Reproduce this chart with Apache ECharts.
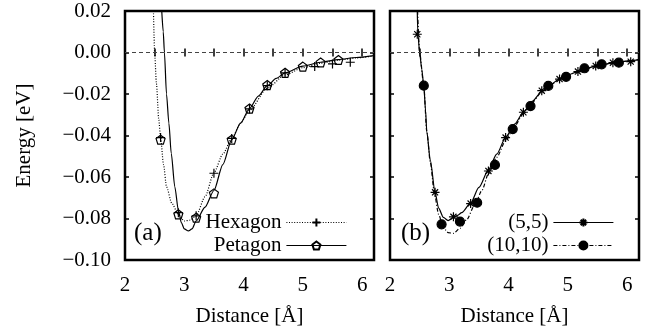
<!DOCTYPE html>
<html>
<head>
<meta charset="utf-8">
<script src="https://cdn.jsdelivr.net/npm/echarts@6/dist/echarts.min.js"></script>
<style>
html,body{margin:0;padding:0;background:#fff;}
#chart{width:657px;height:334px;}
</style>
</head>
<body>
<div id="chart"></div>
<script>
// ---- Panel (a): measured points ----
const hexX  = [2.6, 2.9, 3.2, 3.5, 3.8, 4.1, 4.4, 4.7, 5.2, 5.5, 5.8];
const hexY  = [-0.041, -0.0772, -0.0787, -0.0582, -0.0414, -0.0272, -0.0160, -0.0098, -0.0068, -0.0055, -0.0047];
const pentX = [2.6, 2.9, 3.2, 3.5, 3.8, 4.1, 4.4, 4.7, 5.0, 5.3, 5.6];
const pentY = [-0.042, -0.078, -0.0796, -0.0679, -0.042, -0.0270, -0.0157, -0.0098, -0.0068, -0.0048, -0.0036];
// ---- Panel (a): fitted curves ----
const hexFitX = [2.48, 2.50, 2.53, 2.57, 2.60, 2.65, 2.70, 2.79, 2.90, 3.00, 3.10, 3.20, 3.35, 3.50, 3.65, 3.80, 3.95, 4.10, 4.40, 4.70, 5.00, 5.30, 5.60, 5.90, 6.20];
const hexFitY = [0.02, 0.0, -0.015, -0.0325, -0.041, -0.054, -0.0647, -0.0727, -0.0780, -0.0812, -0.0808, -0.0787, -0.0695, -0.0580, -0.0490, -0.0415, -0.0340, -0.0278, -0.0172, -0.0108, -0.0073, -0.0052, -0.0037, -0.0026, -0.0016];
const pentFitX = [2.62, 2.645, 2.665, 2.70, 2.74, 2.78, 2.84, 2.90, 2.95, 3.00, 3.07, 3.13, 3.20, 3.35, 3.50, 3.65, 3.80, 3.95, 4.10, 4.25, 4.40, 4.55, 4.70, 5.00, 5.30, 5.60, 5.90, 6.20];
const pentFitY = [0.02, 0.01, 0.0, -0.020, -0.034, -0.0486, -0.0647, -0.0760, -0.0820, -0.0850, -0.0860, -0.0850, -0.0812, -0.0745, -0.0665, -0.0540, -0.0420, -0.0340, -0.0270, -0.0210, -0.0160, -0.0125, -0.0098, -0.0066, -0.0047, -0.0034, -0.0024, -0.0015];
// ---- Panel (b): measured points ----
const s55X = [2.46, 2.76, 3.07, 3.36, 3.66, 3.95, 4.25, 4.56, 4.86, 5.17, 5.47, 5.76, 6.06];
const s55Y = [0.0088, -0.0674, -0.0792, -0.0728, -0.0571, -0.0410, -0.0288, -0.0184, -0.0128, -0.0092, -0.0065, -0.0049, -0.0044];
const s1010X = [2.57, 2.87, 3.18, 3.47, 3.77, 4.07, 4.37, 4.67, 4.97, 5.28, 5.57, 5.86];
const s1010Y = [-0.016, -0.0828, -0.0815, -0.0724, -0.0542, -0.0369, -0.0258, -0.0161, -0.0117, -0.0076, -0.0057, -0.0049];
// ---- Panel (b): fitted curves ----
const fit55X = [2.46, 2.47, 2.50, 2.535, 2.57, 2.60, 2.62, 2.68, 2.76, 2.82, 2.90, 2.98, 3.07, 3.14, 3.21, 3.36, 3.50, 3.66, 3.80, 3.95, 4.10, 4.25, 4.40, 4.56, 4.70, 4.86, 5.00, 5.17, 5.30, 5.47, 5.76, 6.06, 6.20];
const fit55Y = [0.02, 0.009, 0.0, -0.008, -0.016, -0.028, -0.038, -0.052, -0.0674, -0.0750, -0.0795, -0.0810, -0.0795, -0.0785, -0.0772, -0.0725, -0.0650, -0.0566, -0.0490, -0.0410, -0.0345, -0.0288, -0.0235, -0.0188, -0.0155, -0.0128, -0.0108, -0.0092, -0.0078, -0.0066, -0.0050, -0.0039, -0.0034];
const fit1010X = [2.465, 2.50, 2.57, 2.62, 2.68, 2.75, 2.82, 2.90, 2.98, 3.07, 3.18, 3.29, 3.43, 3.55, 3.66, 3.80, 3.95, 4.10, 4.25, 4.40, 4.56, 4.70, 4.86, 5.00, 5.17, 5.30, 5.47, 5.76, 6.06, 6.20];
const fit1010Y = [0.02, 0.0, -0.016, -0.038, -0.053, -0.068, -0.078, -0.0845, -0.0868, -0.0872, -0.0847, -0.0807, -0.0735, -0.0665, -0.0585, -0.0505, -0.0425, -0.0355, -0.0295, -0.0240, -0.0190, -0.0158, -0.0129, -0.0110, -0.0092, -0.0079, -0.0066, -0.0050, -0.0039, -0.0034];
// ---- axes ----
const xMin = 2, xMax = 6.2, xStep = 0.5;
const yMin = -0.10, yMax = 0.02, yStep = 0.02;
const xLabelName = 'Distance [Å]';
const yLabelName = 'Energy [eV]';

const zip = (xs, ys) => xs.map((x, i) => [x, ys[i]]);
const FONT = 'Liberation Serif';
const txt = {fontFamily: FONT, fontSize: 21, color: '#000'};

const plusSym = 'path://M5,0L5,10M0,5L10,5';
const pentSym = 'path://M5,0L9.755,3.455L7.939,9.045L2.061,9.045L0.245,3.455Z';
const starSym = 'path://M5,0L5,10M0,5L10,5M1.6,1.6L8.4,8.4M1.6,8.4L8.4,1.6';

const DOT = [1, 1.6];
const DASHDOT = [4, 2, 1, 2];

const grids = [
  {left: 125, top: 11, width: 249, height: 249, show: true, borderColor: '#000', borderWidth: 2.5, backgroundColor: 'transparent'},
  {left: 390, top: 11, width: 249, height: 249, show: true, borderColor: '#000', borderWidth: 2.5, backgroundColor: 'transparent'}
];

function xAx(g, pos, labels) {
  return {
    type: 'value', gridIndex: g, position: pos, min: xMin, max: xMax, interval: xStep,
    axisLine: {show: false}, splitLine: {show: false},
    axisTick: {show: true, inside: true, length: 4, lineStyle: {color: '#000', width: 1.5}},
    axisLabel: {show: labels, margin: 15, ...txt,
      formatter: v => Math.abs(v - Math.round(v)) < 1e-6 ? String(Math.round(v)) : '',
      showMaxLabel: false},
    name: labels ? xLabelName : '', nameLocation: 'middle', nameGap: 46, nameTextStyle: txt
  };
}
function yAx(g, pos, labels, named) {
  return {
    type: 'value', gridIndex: g, position: pos, min: yMin, max: yMax, interval: yStep,
    axisLine: {show: false}, splitLine: {show: false},
    axisTick: {show: true, inside: true, length: 4, lineStyle: {color: '#000', width: 1.5}},
    axisLabel: {show: labels, margin: 14, ...txt,
      formatter: v => { if (Math.abs(v) < 1e-9) return '0.00'; const s = v.toFixed(2); return s.replace('-', '\u2212'); }},
    name: named ? yLabelName : '', nameLocation: 'middle', nameGap: 90, nameTextStyle: txt
  };
}

const zeroLine = {
  silent: true, symbol: 'none', label: {show: false},
  lineStyle: {type: [4, 3], color: '#444', width: 1},
  emphasis: {disabled: true},
  data: [{yAxis: 0}]
};

function curve(name, xi, yi, data, type, z) {
  return {
    name: name, type: 'line', xAxisIndex: xi, yAxisIndex: yi, data: data,
    showSymbol: false, symbol: 'none', smooth: 0.25, smoothMonotone: 'x', clip: true,
    lineStyle: {color: '#000', width: 1.2, type: type}, z: z, silent: true,
    itemStyle: {color: '#000'}
  };
}
function pts(name, xi, yi, data, sym, size, fill) {
  return {
    name: name, type: 'line', xAxisIndex: xi, yAxisIndex: yi, data: data,
    symbol: sym, symbolSize: size, showSymbol: true, silent: true, clip: true,
    lineStyle: {width: 0, color: '#000'},
    itemStyle: {color: fill, borderColor: '#000', borderWidth: 1.2},
    z: 5
  };
}

const legendBase = {orient: 'vertical', align: 'right', top: 212, padding: 0,
  itemWidth: 60, itemHeight: 10, itemGap: 2, textStyle: txt, selectedMode: false};

const option = {
  animation: false,
  backgroundColor: '#fff',
  grid: grids,
  xAxis: [xAx(0, 'bottom', true), xAx(0, 'top', false), xAx(1, 'bottom', true), xAx(1, 'top', false)],
  yAxis: [yAx(0, 'left', true, true), yAx(0, 'right', false, false), yAx(1, 'left', false, false), yAx(1, 'right', false, false)],
  legend: [
    Object.assign({}, legendBase, {right: 310, data: [
      {name: 'Hexagon', lineStyle: {width: 1.2, color: '#000', type: DOT}},
      {name: 'Petagon', lineStyle: {width: 1.2, color: '#000', type: 'solid'}}
    ]}),
    Object.assign({}, legendBase, {right: 43, data: [
      {name: '(5,5)', lineStyle: {width: 1.2, color: '#000', type: 'solid'}},
      {name: '(10,10)', lineStyle: {width: 1.2, color: '#000', type: DASHDOT}}
    ]})
  ],
  graphic: [
    {type: 'text', left: 134, top: 221, style: {text: '(a)', font: '25px "Liberation Serif"', fill: '#000'}},
    {type: 'text', left: 401, top: 221, style: {text: '(b)', font: '25px "Liberation Serif"', fill: '#000'}}
  ],
  series: [
    Object.assign(curve('hexfit', 0, 0, zip(hexFitX, hexFitY), DOT, 2), {markLine: zeroLine}),
    curve('pentfit', 0, 0, zip(pentFitX, pentFitY), 'solid', 2),
    pts('Hexagon', 0, 0, zip(hexX, hexY), plusSym, 9, '#000'),
    pts('Petagon', 0, 0, zip(pentX, pentY), pentSym, 9, 'rgba(0,0,0,0)'),
    Object.assign(curve('fit55', 2, 2, zip(fit55X, fit55Y), 'solid', 2), {markLine: zeroLine}),
    curve('fit1010', 2, 2, zip(fit1010X, fit1010Y), DASHDOT, 2),
    pts('(5,5)', 2, 2, zip(s55X, s55Y), starSym, 9, '#000'),
    pts('(10,10)', 2, 2, zip(s1010X, s1010Y), 'circle', 9, '#000')
  ]
};

const chart = echarts.init(document.getElementById('chart'), null, {renderer: 'canvas'});
chart.setOption(option);
</script>
</body>
</html>
